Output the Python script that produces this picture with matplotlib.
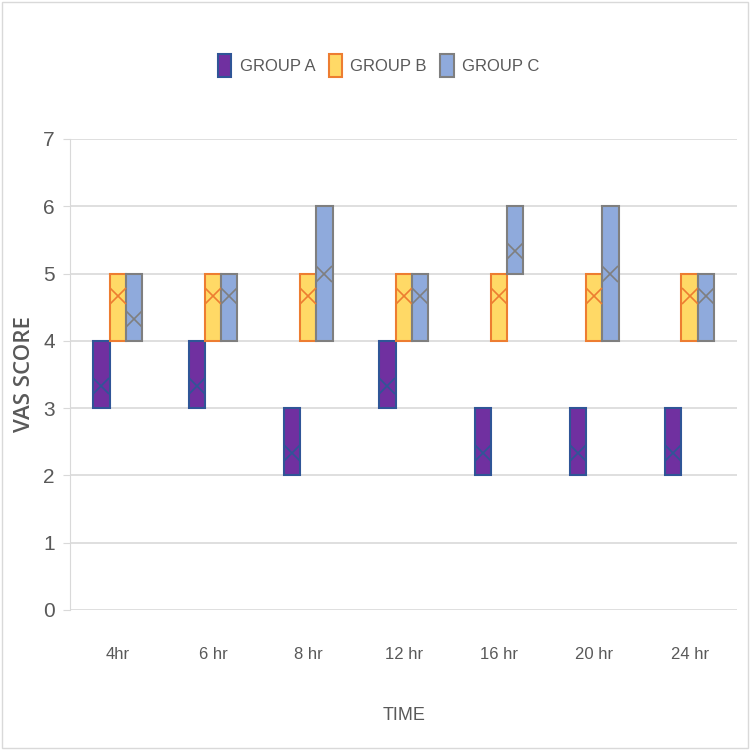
"""VAS score ranges by group over time (Excel-style box chart)."""

import matplotlib

matplotlib.use("Agg")

import matplotlib.pyplot as plt
from matplotlib.patches import Patch, Rectangle

plt.rcParams["font.family"] = ["Liberation Sans", "DejaVu Sans"]

TIMES = ["4hr", "6 hr", "8 hr", "12 hr", "16 hr", "20 hr", "24 hr"]
GROUPS = ["GROUP A", "GROUP B", "GROUP C"]

A_LOW = [3, 3, 2, 3, 2, 2, 2]
A_HIGH = [4, 4, 3, 4, 3, 3, 3]
A_MEAN = [3.33, 3.33, 2.33, 3.33, 2.33, 2.33, 2.33]

B_LOW = [4, 4, 4, 4, 4, 4, 4]
B_HIGH = [5, 5, 5, 5, 5, 5, 5]
B_MEAN = [4.67, 4.67, 4.67, 4.67, 4.67, 4.67, 4.67]

C_LOW = [4, 4, 4, 4, 5, 4, 4]
C_HIGH = [5, 5, 6, 5, 6, 6, 5]
C_MEAN = [4.33, 4.67, 5.0, 4.67, 5.33, 5.0, 4.67]

FILLS = ["#7030A0", "#FFD966", "#8FAADC"]
EDGES = ["#2F5597", "#ED7D31", "#7F7F7F"]
TEXT_GREY = "#595959"

series = [
    (A_LOW, A_HIGH, A_MEAN),
    (B_LOW, B_HIGH, B_MEAN),
    (C_LOW, C_HIGH, C_MEAN),
]

fig = plt.figure(figsize=(7.5, 7.5), dpi=100)
ax = fig.add_axes([0.0933, 0.1867, 0.8897, 0.628])

box_w = 0.17
for g, (lows, highs, means) in enumerate(series):
    offset = (g - 1) * box_w
    for i in range(len(TIMES)):
        x0 = i + offset - box_w / 2
        ax.add_patch(
            Rectangle(
                (x0, lows[i]),
                box_w,
                highs[i] - lows[i],
                facecolor=FILLS[g],
                edgecolor=EDGES[g],
                linewidth=1.5,
                zorder=3,
            )
        )
        ax.plot(
            i + offset,
            means[i],
            marker="x",
            markersize=11.5,
            markeredgewidth=1.2,
            color=EDGES[g],
            linestyle="None",
            zorder=4,
        )

ax.set_xlim(-0.5, len(TIMES) - 0.5)
ax.set_ylim(0, 7)
ax.set_yticks(range(8))
ax.set_xticks(range(len(TIMES)))
ax.set_xticklabels(TIMES)
ax.tick_params(axis="y", colors="#D9D9D9", labelcolor=TEXT_GREY, labelsize=15,
               length=5, pad=6)
ax.tick_params(axis="x", length=0, labelcolor=TEXT_GREY, labelsize=12, pad=27)
ax.grid(axis="y", color="#D9D9D9", linewidth=1.2, zorder=0)
ax.set_axisbelow(True)
for side in ["top", "right", "bottom"]:
    ax.spines[side].set_visible(False)
ax.spines["left"].set_color("#D9D9D9")

ax.set_xlabel("TIME", color=TEXT_GREY, fontsize=13, labelpad=32)
ax.set_ylabel("VAS SCORE", color=TEXT_GREY, fontsize=16, labelpad=6,
              family=["Open Sans", "DejaVu Sans"], fontweight="semibold")

handles = [
    Patch(facecolor=FILLS[g], edgecolor=EDGES[g], linewidth=1.5, label=GROUPS[g])
    for g in range(3)
]
fig.legend(
    handles=handles,
    loc="center",
    bbox_to_anchor=(0.505, 0.913),
    ncol=3,
    frameon=False,
    fontsize=12,
    labelcolor=TEXT_GREY,
    handlelength=0.8,
    handleheight=1.75,
    handletextpad=0.5,
    columnspacing=0.8,
)

fig.patches.append(
    Rectangle((0.003, 0.003), 0.994, 0.994, transform=fig.transFigure,
              fill=False, edgecolor="#D9D9D9", linewidth=1)
)

fig.savefig("out.png")
